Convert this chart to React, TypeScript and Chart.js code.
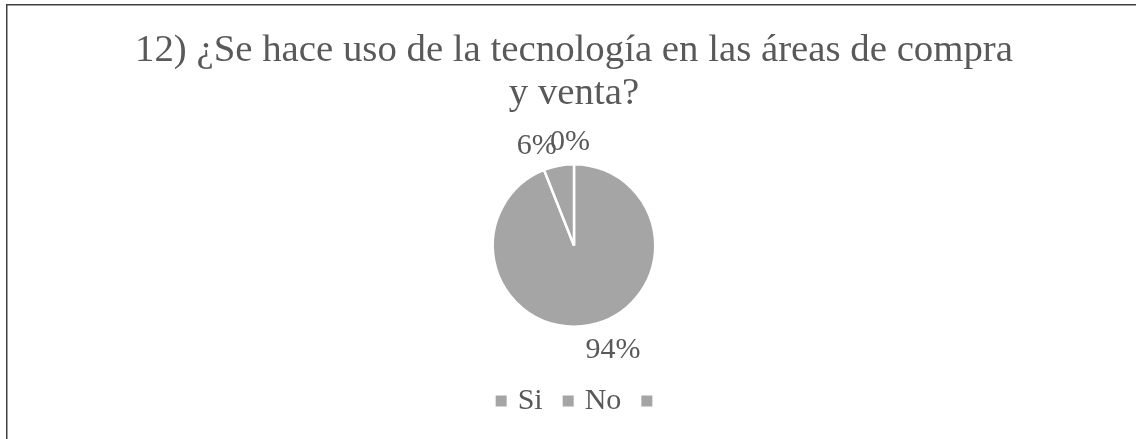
import React, { useEffect, useRef } from "react";
import { Chart, registerables } from "chart.js";

Chart.register(...registerables);

const titleLines = ["12) ¿Se hace uso de la tecnología en las áreas de compra", "y venta?"];
const categories = ["Si", "No", ""];
const values = [94, 6, 0];
const valueLabels = ["94%", "6%", "0%"];

const SLICE = "#A5A5A5";
const TEXT = "#595959";
const FONT = "'Liberation Serif', 'Times New Roman', serif";

const decorPlugin = {
  id: "decor",
  afterDraw(chart: any) {
    const ctx = chart.ctx as CanvasRenderingContext2D;
    const cx = 574;
    ctx.save();
    // frame (left and top edges of the chart box)
    ctx.strokeStyle = "#404040";
    ctx.lineWidth = 1.5;
    ctx.beginPath();
    ctx.moveTo(6.75, 439);
    ctx.lineTo(6.75, 4.75);
    ctx.lineTo(1136, 4.75);
    ctx.stroke();

    ctx.fillStyle = TEXT;
    // title
    ctx.font = `38.8px ${FONT}`;
    ctx.textAlign = "center";
    ctx.textBaseline = "alphabetic";
    const base = [61, 104];
    titleLines.forEach((t, i) => ctx.fillText(t, cx, base[i]));

    // data labels
    const meta = chart.getDatasetMeta(0);
    const shifts = [-0.17, -0.17, -0.04];
    const dist = [30, 25, 22];
    ctx.font = `30px ${FONT}`;
    ctx.textBaseline = "middle";
    meta.data.forEach((arc: any, i: number) => {
      const p = arc.getProps(["x", "y", "startAngle", "endAngle", "outerRadius"], true);
      const mid = (p.startAngle + p.endAngle) / 2 + shifts[i];
      const r = p.outerRadius + dist[i];
      const x = p.x + Math.cos(mid) * r;
      const y = p.y + Math.sin(mid) * r;
      ctx.fillText(valueLabels[i], x, y);
    });

    // legend
    ctx.font = `30px ${FONT}`;
    ctx.textAlign = "left";
    const box = 11;
    const gapBoxText = 11;
    const gapItems = 20;
    const widths = categories.map((c) => (c ? ctx.measureText(c).width : 0));
    let total = 0;
    categories.forEach((c, i) => {
      total += box + (c ? gapBoxText + widths[i] : 0);
      if (i < categories.length - 1) total += gapItems;
    });
    let x = cx - total / 2;
    const ly = 401;
    categories.forEach((c, i) => {
      ctx.fillStyle = SLICE;
      ctx.fillRect(x, ly - box / 2, box, box);
      x += box;
      if (c) {
        ctx.fillStyle = TEXT;
        ctx.fillText(c, x + gapBoxText, ly);
        x += gapBoxText + widths[i];
      }
      x += gapItems;
    });
    ctx.restore();
  },
};

export default function App() {
  const ref = useRef<HTMLCanvasElement>(null);
  useEffect(() => {
    document.body.style.margin = "0";
    document.body.style.overflow = "hidden";
    const chart = new Chart(ref.current!, {
      type: "pie",
      data: {
        labels: categories,
        datasets: [
          {
            data: values,
            backgroundColor: [SLICE, SLICE, SLICE],
            borderColor: "#FFFFFF",
            borderWidth: 2.5,
          },
        ],
      },
      options: {
        animation: false,
        responsive: false,
        maintainAspectRatio: false,
        layout: { padding: { left: 12, right: 0, top: 163, bottom: 111 } },
        plugins: {
          legend: { display: false },
          title: { display: false },
          tooltip: { enabled: false },
        },
      },
      plugins: [decorPlugin],
    });
    return () => chart.destroy();
  }, []);
  return (
    <div style={{ position: "relative", width: 1136, height: 439, background: "#fff", overflow: "hidden" }}>
      <canvas ref={ref} width={1136} height={439} style={{ display: "block", position: "absolute", left: 0, top: 0 }} />
    </div>
  );
}
